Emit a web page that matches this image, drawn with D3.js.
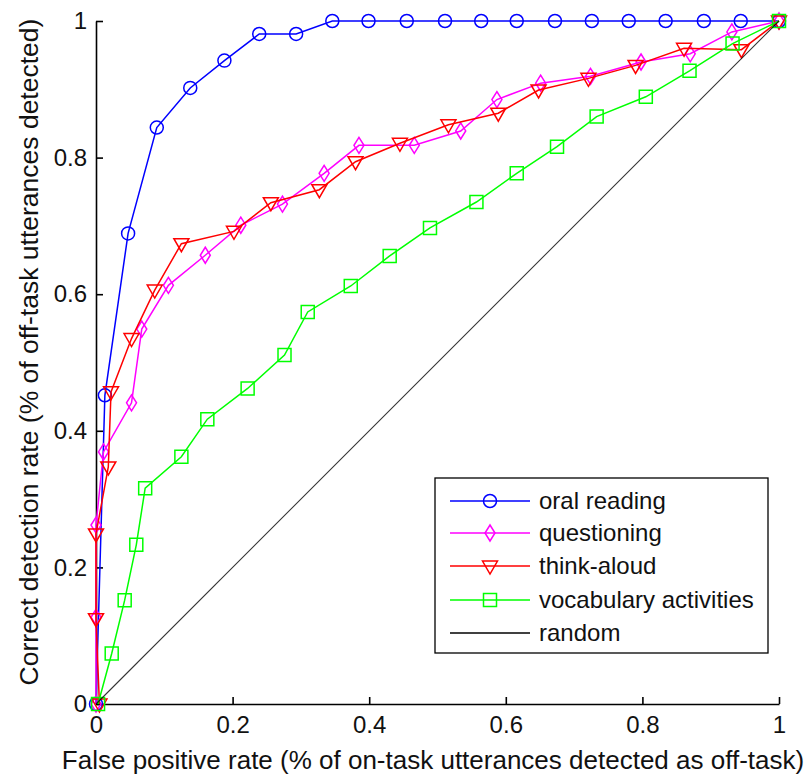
<!DOCTYPE html>
<html>
<head>
<meta charset="utf-8">
<script src="https://cdn.jsdelivr.net/npm/d3@7"></script>
<style>
  html, body { margin: 0; padding: 0; background: #fff; }
  svg { display: block; }
  text { font-family: Arial, "Liberation Sans", Helvetica, sans-serif; fill: #111; }
</style>
</head>
<body>
<svg id="chart" width="804" height="777"></svg>
<script>
// ROC curves: detection rate vs. false positive rate per activity type
const oralFpr = [0, 0.013, 0.047, 0.089, 0.138, 0.188, 0.239, 0.293, 0.346, 0.399, 0.455, 0.511, 0.564, 0.616, 0.672, 0.726, 0.780, 0.834, 0.890, 0.944, 1];
const oralTpr = [0, 0.452, 0.689, 0.844, 0.902, 0.942, 0.981, 0.981, 1, 1, 1, 1, 1, 1, 1, 1, 1, 1, 1, 1, 1];

const questFpr = [0, 0, 0, 0.011, 0.052, 0.067, 0.106, 0.160, 0.212, 0.273, 0.334, 0.385, 0.466, 0.534, 0.587, 0.651, 0.724, 0.798, 0.870, 0.931, 1];
const questTpr = [0, 0.127, 0.262, 0.369, 0.441, 0.549, 0.613, 0.657, 0.701, 0.732, 0.777, 0.818, 0.818, 0.839, 0.885, 0.909, 0.919, 0.940, 0.952, 0.984, 1];

const thinkFpr = [0.005, 0, 0, 0.018, 0.022, 0.052, 0.086, 0.125, 0.202, 0.256, 0.327, 0.380, 0.445, 0.516, 0.589, 0.648, 0.721, 0.790, 0.861, 0.945, 1];
const thinkTpr = [0, 0.125, 0.249, 0.347, 0.457, 0.535, 0.606, 0.674, 0.692, 0.734, 0.753, 0.794, 0.821, 0.848, 0.865, 0.899, 0.916, 0.935, 0.960, 0.958, 1];

const vocabFpr = [0.003, 0.023, 0.042, 0.059, 0.072, 0.125, 0.163, 0.222, 0.276, 0.310, 0.373, 0.430, 0.489, 0.557, 0.616, 0.675, 0.733, 0.805, 0.869, 0.932, 1];
const vocabTpr = [0, 0.074, 0.152, 0.233, 0.316, 0.362, 0.417, 0.462, 0.511, 0.574, 0.612, 0.656, 0.697, 0.735, 0.777, 0.816, 0.860, 0.889, 0.927, 0.967, 1];

const randomFpr = [0, 1];
const randomTpr = [0, 1];

const seriesNames = ["oral reading", "questioning", "think-aloud", "vocabulary activities", "random"];
const seriesColors = ["#0000ff", "#ff00ff", "#ff0000", "#00ff00", "#000000"];
const seriesMarkers = ["circle", "diamond", "triangle", "square", "none"];

const xTicks = [0, 0.2, 0.4, 0.6, 0.8, 1];
const yTicks = [0, 0.2, 0.4, 0.6, 0.8, 1];

const xLabel = "False positive rate (% of on-task utterances detected as off-task)";
const yLabel = "Correct detection rate (% of off-task utterances detected)";

const series = [
  { x: oralFpr, y: oralTpr },
  { x: questFpr, y: questTpr },
  { x: thinkFpr, y: thinkTpr },
  { x: vocabFpr, y: vocabTpr },
  { x: randomFpr, y: randomTpr }
].map((s, i) => ({
  name: seriesNames[i],
  color: seriesColors[i],
  marker: seriesMarkers[i],
  points: s.x.map((v, j) => [v, s.y[j]])
}));

const svg = d3.select("#chart");
const plot = { left: 96, right: 779, top: 21, bottom: 704 };

const x = d3.scaleLinear().domain([0, 1]).range([plot.left, plot.right]);
const y = d3.scaleLinear().domain([0, 1]).range([plot.bottom, plot.top]);

const fmt = d3.format("~g");

// axes: ticks point inward, no outer ticks
const xAxis = svg.append("g")
  .attr("transform", `translate(0,${plot.bottom})`)
  .call(d3.axisBottom(x).tickValues(xTicks).tickFormat(fmt).tickSizeInner(-7).tickSizeOuter(0).tickPadding(12));
const yAxis = svg.append("g")
  .attr("transform", `translate(${plot.left},0)`)
  .call(d3.axisLeft(y).tickValues(yTicks).tickFormat(fmt).tickSizeInner(-7).tickSizeOuter(0).tickPadding(9));

[xAxis, yAxis].forEach(g => {
  g.select(".domain").attr("stroke", "#000").attr("stroke-width", 1.6);
  g.selectAll(".tick line").attr("stroke", "#000").attr("stroke-width", 1.6);
  g.selectAll(".tick text")
    .attr("fill", "#111")
    .style("font-size", "24px")
    .style("font-family", "Arial, 'Liberation Sans', sans-serif");
});

// marker shapes
function markerPath(type) {
  switch (type) {
    case "circle":
      return "M6.5,0A6.5,6.5 0 1,1 -6.5,0A6.5,6.5 0 1,1 6.5,0Z";
    case "diamond":
      return "M0,-8L5,0L0,8L-5,0Z";
    case "triangle":
      return "M-7.5,-5L7.5,-5L0,8Z";
    case "square":
      return "M-6.5,-6.5L6.5,-6.5L6.5,6.5L-6.5,6.5Z";
    default:
      return null;
  }
}

const line = d3.line().x(d => x(d[0])).y(d => y(d[1]));

const layer = svg.append("g");
series.forEach(s => {
  const g = layer.append("g");
  g.append("path")
    .datum(s.points)
    .attr("d", line)
    .attr("fill", "none")
    .attr("stroke", s.color)
    .attr("stroke-width", s.marker === "none" ? 1.1 : 1.5)
    .attr("stroke-opacity", s.marker === "none" ? 0.8 : 1);
  const mp = markerPath(s.marker);
  if (mp) {
    g.selectAll("path.mk")
      .data(s.points)
      .join("path")
      .attr("class", "mk")
      .attr("d", mp)
      .attr("transform", d => `translate(${x(d[0])},${y(d[1])})`)
      .attr("fill", "none")
      .attr("stroke", s.color)
      .attr("stroke-width", 1.5);
  }
});

// axis titles
svg.append("text")
  .attr("x", 433)
  .attr("y", 769)
  .attr("text-anchor", "middle")
  .style("font-size", "26px")
  .text(xLabel);

svg.append("text")
  .attr("transform", `translate(38,${352}) rotate(-90)`)
  .attr("text-anchor", "middle")
  .style("font-size", "26.5px")
  .text(yLabel);

// legend
const legend = svg.append("g").attr("transform", "translate(435,478)");
legend.append("rect")
  .attr("width", 333).attr("height", 175)
  .attr("fill", "#fff").attr("stroke", "#000").attr("stroke-width", 1.3);

const rowY = [23, 55, 88, 122, 155];
series.forEach((s, i) => {
  const row = legend.append("g").attr("transform", `translate(0,${rowY[i]})`);
  row.append("line")
    .attr("x1", 15).attr("x2", 95).attr("y1", 0).attr("y2", 0)
    .attr("stroke", s.color).attr("stroke-width", s.marker === "none" ? 1.3 : 1.5);
  const mp = markerPath(s.marker);
  if (mp) {
    row.append("path")
      .attr("d", mp)
      .attr("transform", "translate(55,0)")
      .attr("fill", "none").attr("stroke", s.color).attr("stroke-width", 1.5);
  }
  row.append("text")
    .attr("x", 104).attr("y", 0).attr("dy", "0.35em")
    .style("font-size", "24px")
    .text(s.name);
});
</script>
</body>
</html>
